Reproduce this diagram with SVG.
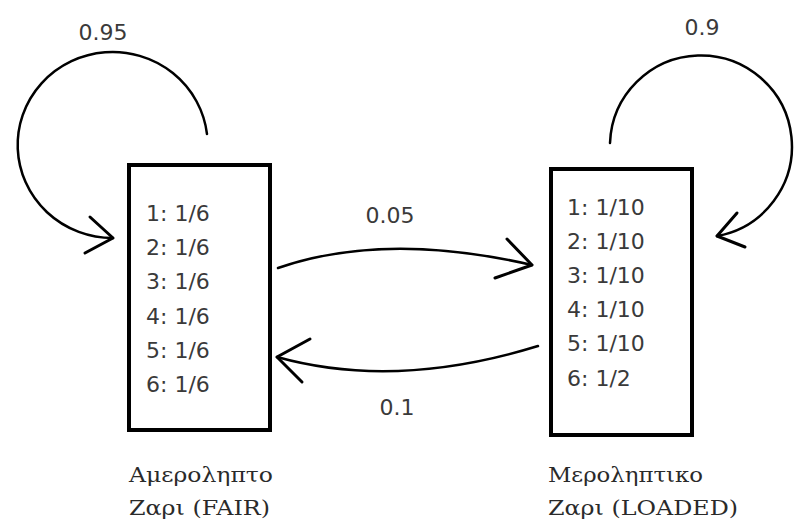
<svg xmlns="http://www.w3.org/2000/svg" width="795" height="523" viewBox="0 0 795 523">
<style>
.box{fill:#fff;stroke:#000;stroke-width:4}
.num{font-family:"DejaVu Sans",sans-serif;font-size:22px;fill:#3a3a3a}
.lbl{font-family:"DejaVu Sans",sans-serif;font-size:22px;fill:#3a3a3a;text-anchor:middle}
.name{font-family:"DejaVu Serif","Liberation Serif",serif;font-size:20px;fill:#2a2a2a}
.edge{fill:none;stroke:#000;stroke-width:2.5;stroke-linecap:round}
.head{fill:none;stroke:#000;stroke-width:3;stroke-linecap:round;stroke-linejoin:round}
</style>
<rect width="795" height="523" fill="#fff"/>
<g id="connectors">
  <path class="edge" d="M207,134 A95,93 0 1 0 113,238"/>
  <polyline class="head" points="90,217 113,238 85,253"/>
  <path class="edge" d="M610,143 A91,91 0 1 1 717,236"/>
  <polyline class="head" points="737,213 717,236 745,247"/>
  <path class="edge" d="M278,268 Q385,231 532,265"/>
  <polyline class="head" points="507,239 532,265 495,278"/>
  <path class="edge" d="M538,346 Q395,390 277,357"/>
  <polyline class="head" points="310,339 277,357 302,382"/>
  <text class="lbl" x="103" y="40">0.95</text>
  <text class="lbl" x="702" y="35">0.9</text>
  <text class="lbl" x="390" y="223">0.05</text>
  <text class="lbl" x="397" y="415">0.1</text>
</g>
<g id="fair">
  <rect class="box" x="129" y="165" width="141" height="265"/>
  <text class="num" x="146" y="221">1: 1/6</text>
  <text class="num" x="146" y="255">2: 1/6</text>
  <text class="num" x="146" y="289">3: 1/6</text>
  <text class="num" x="146" y="324">4: 1/6</text>
  <text class="num" x="146" y="358">5: 1/6</text>
  <text class="num" x="146" y="392">6: 1/6</text>
  <text class="name" x="129" y="482" textLength="144" lengthAdjust="spacingAndGlyphs">Αμεροληπτο</text>
  <text class="name" x="129" y="515" textLength="141" lengthAdjust="spacingAndGlyphs">Ζαρι (FAIR)</text>
</g>
<g id="loaded">
  <rect class="box" x="551" y="169" width="141" height="266"/>
  <text class="num" x="567" y="215">1: 1/10</text>
  <text class="num" x="567" y="249">2: 1/10</text>
  <text class="num" x="567" y="283">3: 1/10</text>
  <text class="num" x="567" y="317">4: 1/10</text>
  <text class="num" x="567" y="351">5: 1/10</text>
  <text class="num" x="567" y="386">6: 1/2</text>
  <text class="name" x="548" y="482" textLength="155" lengthAdjust="spacingAndGlyphs">Μεροληπτικο</text>
  <text class="name" x="548" y="515" textLength="190" lengthAdjust="spacingAndGlyphs">Ζαρι (LOADED)</text>
</g>
</svg>
